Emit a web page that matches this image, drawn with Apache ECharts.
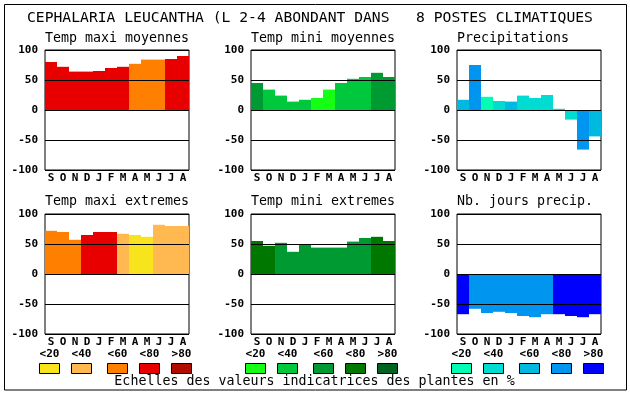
<!DOCTYPE html>
<html>
<head>
<meta charset="utf-8">
<script src="https://cdn.jsdelivr.net/npm/echarts@6/dist/echarts.min.js"></script>
<style>
html,body{margin:0;padding:0;background:#fff;}
#chart{width:630px;height:394px;}
</style>
</head>
<body>
<div id="chart"></div>
<script>
// ---- data ----
const mainTitle = 'CEPHALARIA LEUCANTHA (L 2-4 ABONDANT DANS   8 POSTES CLIMATIQUES';
const footerText = 'Echelles des valeurs indicatrices des plantes en %';
const months = ['S','O','N','D','J','F','M','A','M','J','J','A'];
const classLabels = ['<20','<40','<60','<80','>80'];
const redScale   = ['#f8e41c','#ffb950','#ff8000','#e80000','#b00c00'];
const greenScale = ['#14ff14','#00c83c','#009a32','#007800','#006420'];
const blueScale  = ['#00ffb4','#00dcd2','#00b9e1','#0096f0','#0000ff'];

const panelTitles = ['Temp maxi moyennes','Temp mini moyennes','Precipitations',
                     'Temp maxi extremes','Temp mini extremes','Nb. jours precip.'];

const tmaxMoy    = [80,72,64,64,65,70,72,77,84,84,85,90];
const tmaxMoyCls = [3,3,3,3,3,3,3,2,2,2,3,3];
const tminMoy    = [45,34,24,14,17,20,34,45,52,55,62,55];
const tminMoyCls = [2,1,1,1,1,0,0,1,1,1,2,2];
const precip     = [17,75,22,15,14,24,20,25,2,-16,-66,-44];
const precipCls  = [2,3,0,1,2,1,1,1,1,1,3,2];
const tmaxExt    = [72,70,57,65,70,70,67,65,62,82,80,80];
const tmaxExtCls = [2,2,2,3,3,3,1,0,0,1,1,1];
const tminExt    = [55,47,52,37,50,44,44,44,54,60,62,55];
const tminExtCls = [3,3,2,2,2,2,2,2,2,2,3,3];
const nbJours    = [-67,-58,-65,-63,-65,-70,-72,-67,-67,-70,-72,-67];
const nbJoursCls = [4,3,3,3,3,3,3,3,4,4,4,4];

const panelValues = [tmaxMoy,tminMoy,precip,tmaxExt,tminExt,nbJours];
const panelClasses = [tmaxMoyCls,tminMoyCls,precipCls,tmaxExtCls,tminExtCls,nbJoursCls];
const panelScales = [redScale,greenScale,blueScale,redScale,greenScale,blueScale];

// ---- layout ----
const MONO = '"DejaVu Sans Mono", "Liberation Mono", monospace';
const colLeft = [45,251,457];
const rowTop = [50,214];
const PW = 144, PH = 120;

const grids=[], xAxes=[], yAxes=[], series=[], graphics=[];

for (let p=0;p<6;p++){
  const c = p%3, r = Math.floor(p/3);
  grids.push({left:colLeft[c], top:rowTop[r], width:PW, height:PH,
    show:true, borderColor:'#000', borderWidth:1, backgroundColor:'transparent', containLabel:false});
  xAxes.push({type:'category', gridIndex:p, data:months, boundaryGap:true,
    axisLine:{show:false}, axisTick:{show:false}, splitLine:{show:false},
    axisLabel:{interval:0, margin:3, color:'#000', fontFamily:MONO, fontWeight:'bold', fontSize:11}});
  yAxes.push({type:'value', gridIndex:p, min:-100, max:100, interval:50, z:10,
    axisLine:{show:false}, axisTick:{show:false},
    splitLine:{show:true, lineStyle:{color:'#000', width:1}},
    axisLabel:{margin:7, color:'#000', fontFamily:MONO, fontWeight:'bold', fontSize:11}});
  const sc = panelScales[p];
  series.push({type:'bar', xAxisIndex:p, yAxisIndex:p, barWidth:'100%', barCategoryGap:'0%',
    silent:true, animation:false,
    data: panelValues[p].map((v,i)=>({value:v, itemStyle:{color:sc[panelClasses[p][i]]}}))});
  graphics.push({type:'text', x:colLeft[c], y:[39,202][r],
    style:{text:panelTitles[p], font:'13.3px '+MONO, fill:'#000', align:'left', verticalAlign:'middle'}});
}

// main title & footer
graphics.push({type:'text', x:27, y:18,
  style:{text:mainTitle, font:'14.7px '+MONO, fill:'#000', align:'left', verticalAlign:'middle'}});
graphics.push({type:'text', x:314.5, y:382,
  style:{text:footerText, font:'13.3px '+MONO, fill:'#000', align:'center', verticalAlign:'middle'}});
// frame
graphics.push({type:'rect', shape:{x:4.5,y:4.5,width:622,height:385.5},
  style:{fill:null, stroke:'#000', lineWidth:1}, z:-1});

// legend boxes
const boxOffsets = [-6,26,62,94,126];
const scalesByCol = [redScale,greenScale,blueScale];
for (let c=0;c<3;c++){
  for (let k=0;k<5;k++){
    const bx = colLeft[c]+boxOffsets[k];
    graphics.push({type:'rect', shape:{x:bx+0.5,y:363.5,width:20,height:10},
      style:{fill:scalesByCol[c][k], stroke:'#000', lineWidth:1}});
    graphics.push({type:'text', x:bx+10.5, y:354,
      style:{text:classLabels[k], font:'bold 11px '+MONO, fill:'#000', align:'center', verticalAlign:'middle'}});
  }
}

const chart = echarts.init(document.getElementById('chart'), null, {renderer:'canvas'});
chart.setOption({
  animation:false,
  backgroundColor:'#fff',
  grid:grids, xAxis:xAxes, yAxis:yAxes, series:series, graphic:graphics
});
</script>
</body>
</html>
